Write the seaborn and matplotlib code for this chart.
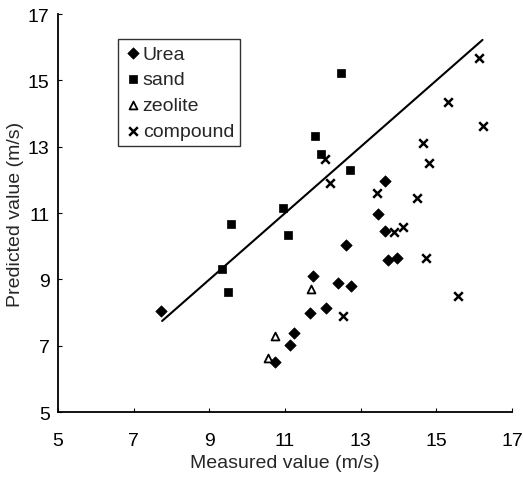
import pandas as pd
import matplotlib
matplotlib.use("Agg")
import matplotlib.pyplot as plt
import seaborn as sns

sns.set_style("ticks")
plt.rcParams['font.family'] = ['Liberation Sans', 'DejaVu Sans']

# measured vs predicted (m/s)
urea_x = [7.71, 13.65, 13.47, 13.65, 12.62, 13.71, 13.95, 11.74, 12.41, 12.75, 11.66, 12.09, 11.24, 11.13, 10.73]
urea_y = [8.04, 11.96, 10.97, 10.46, 10.03, 9.58, 9.64, 9.10, 8.89, 8.80, 7.98, 8.14, 7.38, 7.02, 6.51]

sand_x = [12.49, 11.80, 11.96, 12.73, 10.95, 9.57, 11.08, 9.33, 9.49]
sand_y = [15.22, 13.32, 12.78, 12.30, 11.15, 10.67, 10.34, 9.31, 8.62]

zeolite_x = [11.69, 10.73, 10.55]
zeolite_y = [8.71, 7.29, 6.63]

compound_x = [16.12, 15.30, 16.23, 14.64, 14.80, 12.06, 12.19, 13.44, 14.50, 14.13, 13.89, 14.72, 15.57, 12.54]
compound_y = [15.67, 14.35, 13.62, 13.11, 12.51, 12.63, 11.90, 11.60, 11.45, 10.58, 10.43, 9.64, 8.50, 7.89]

# 1:1 line
line_x = [7.75, 16.22]

fig, ax = plt.subplots(figsize=(5.23, 4.85), dpi=100)
fig.subplots_adjust(left=0.111, right=0.979, bottom=0.148, top=0.969)

ax.plot(line_x, line_x, color="black", lw=1.5, zorder=1)

sns.scatterplot(x=urea_x, y=urea_y, marker="D", s=34, color="black", edgecolor="black", label="Urea", ax=ax, zorder=3)
sns.scatterplot(x=sand_x, y=sand_y, marker="s", s=40, color="black", edgecolor="black", label="sand", ax=ax, zorder=3)
sns.scatterplot(x=zeolite_x, y=zeolite_y, marker="^", s=32, facecolor="white", edgecolor="black", linewidth=1.3, label="zeolite", ax=ax, zorder=3)
sns.scatterplot(x=compound_x, y=compound_y, marker="x", s=38, color="black", linewidth=1.8, label="compound", ax=ax, zorder=3)

ax.set_xlim(5, 17)
ax.set_ylim(5, 17)
ax.set_xticks([5, 7, 9, 11, 13, 15, 17])
ax.set_yticks([5, 7, 9, 11, 13, 15, 17])
ax.tick_params(direction="in", length=3, width=0.8, labelsize=14, colors="black")
ax.tick_params(axis="x", pad=14.5)
ax.tick_params(axis="y", pad=6)
for side in ["top", "right"]:
    ax.spines[side].set_visible(False)
for side in ["left", "bottom"]:
    ax.spines[side].set_color("black")
    ax.spines[side].set_linewidth(1.3)

ax.set_xlabel("Measured value (m/s)", fontsize=14, labelpad=3)
ax.set_ylabel("Predicted value (m/s)", fontsize=14, labelpad=3)

leg = ax.legend(loc="upper left", bbox_to_anchor=(0.133, 0.937), fontsize=14, frameon=True,
                fancybox=False, edgecolor="black", handletextpad=0.05, handlelength=0.9,
                borderpad=0.3, labelspacing=0.42, borderaxespad=0)
leg.get_frame().set_linewidth(1.0)

fig.savefig("out.png", dpi=100)
